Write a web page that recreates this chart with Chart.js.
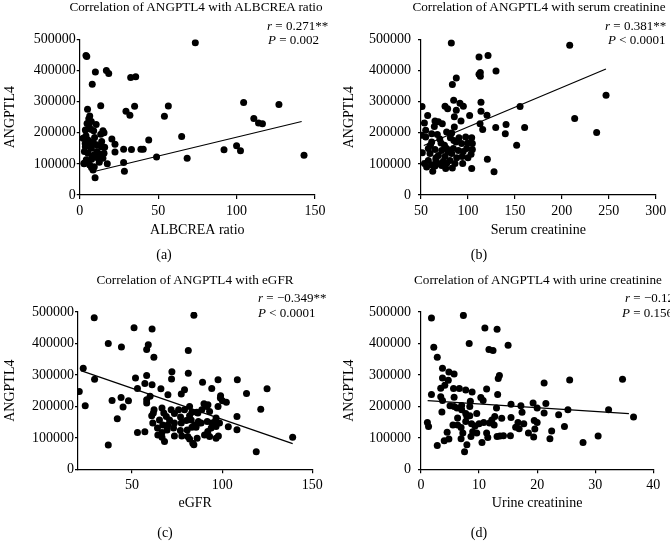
<!DOCTYPE html>
<html><head><meta charset="utf-8">
<script src="https://cdn.jsdelivr.net/npm/chart.js@4.4.1/dist/chart.umd.min.js"></script>
<style>
html,body{margin:0;padding:0;background:#fff;}
body{width:670px;height:547px;position:relative;overflow:hidden;font-family:"Liberation Serif","Times New Roman",serif;color:#000;}
.pan{position:absolute;}
.t{position:absolute;white-space:nowrap;line-height:1;}
.c{transform:translate(-50%,-50%);}
.l{transform:translate(0,-50%);}
.ti{font-size:13.2px;}
.an{font-size:13px;}
.sub{font-size:14px;}
</style></head><body>
<div class="pan" style="left:0;top:0"><canvas id="ca" width="335" height="270"></canvas></div>
<div class="pan" style="left:335px;top:0"><canvas id="cb" width="335" height="270"></canvas></div>
<div class="pan" style="left:0;top:270px"><canvas id="cc" width="335" height="277"></canvas></div>
<div class="pan" style="left:335px;top:270px"><canvas id="cd" width="335" height="277"></canvas></div>

<div class="t c ti" style="left:196px;top:7px">Correlation of ANGPTL4 with ALBCREA ratio</div>
<div class="t c ti" style="left:539px;top:7px">Correlation of ANGPTL4 with serum creatinine</div>
<div class="t c ti" style="left:195px;top:280px">Correlation of ANGPTL4 with eGFR</div>
<div class="t c ti" style="left:538px;top:280px">Correlation of ANGPTL4 with urine creatinine</div>

<div class="t l an" style="left:267px;top:25px"><i>r</i> = 0.271**</div>
<div class="t l an" style="left:268px;top:39px"><i>P</i> = 0.002</div>
<div class="t l an" style="left:605px;top:25px"><i>r</i> = 0.381**</div>
<div class="t l an" style="left:608px;top:39px"><i>P</i> &lt; 0.0001</div>
<div class="t l an" style="left:258px;top:297px"><i>r</i> = −0.349**</div>
<div class="t l an" style="left:258px;top:312px"><i>P</i> &lt; 0.0001</div>
<div class="t l an" style="left:625px;top:297px"><i>r</i> = −0.128</div>
<div class="t l an" style="left:622px;top:312px"><i>P</i> = 0.156</div>

<div class="t c sub" style="left:164px;top:255px">(a)</div>
<div class="t c sub" style="left:479px;top:255px">(b)</div>
<div class="t c sub" style="left:165px;top:533px">(c)</div>
<div class="t c sub" style="left:479px;top:533px">(d)</div>

<script>
// ---------- DATA ----------
const yTicks = [0, 100000, 200000, 300000, 400000, 500000];

// (a) ALBCREA ratio
const albX = [4,4.5,10,8,17,18.5,32.5,35.7,73.7,13.4,29.5,32,35,56.5,54,5,104.5,127,111,114,116.5,65,44,28,33,39,40.5,22.5,22.5,20.5,49,68.5,92,100,102.5,143,28,28.5,9.8,
  6.4,4.7,7.4,3.6,7,8.9,14.8,13.4,2.1,5.3,8.5,3.6,7.4,10.6,13.8,15.9,5.3,9.3,12.7,15.5,4.2,7.6,11.7,14.8,2.7,6.4,9.3,17.6,8.5,2.8,
  5.8,6,4,9.5,6.5,3,11,8,5,12.5,7.5,14,15.5,10.5,3.5];
const albY = [448000,445000,395000,356000,400000,390000,377000,380000,489000,287000,269000,256000,285000,286000,253000,275000,297000,291000,246000,231000,229000,188000,177000,147000,146000,147000,147000,163000,138000,180000,122000,118000,145000,158000,142000,128000,104000,76000,55000,
  254000,230000,236000,209000,211000,206000,206000,195000,182000,177000,171000,155000,150000,161000,155000,153000,134000,129000,132000,134000,113000,115000,118000,118000,102000,96000,91000,100000,80000,100000,
  245000,220000,190000,185000,165000,140000,140000,125000,108000,105000,88000,172000,200000,226000,165000];
const albTicks = [0, 50, 100, 150];
const albFit = [64400, 1213];        // intercept, slope
const albFitRange = [7.9, 141.5];

// (b) Serum creatinine
const scrX = [82.3,208.4,121.4,111.8,129.9,113.2,111.8,113.2,87.6,83.4,
  247.1,51.1,155.5,91.5,84.8,113.9,75.6,78.4,95.1,87.6,
  113.9,57.1,85.5,101.8,120.3,213.7,64.9,68.5,72.7,92.6,
  112.9,53.6,129.6,160.4,140.6,115.7,55,61.4,67.4,64.2,
  85.5,82.7,77.3,139.8,237.1,55,50.7,61.4,71.3,81.3,
  90.5,97.6,104,87.3,93.3,99.7,104.7,151.9,51.4,57.8,
  64.9,72,77.3,84.4,89.8,98.7,104.7,59.6,68.5,75.6,
  82.7,93.9,103.3,57.8,65.8,73.8,80.9,120.7,53.6,61.4,
  68.5,77.3,86.2,94.4,56,64.9,83.4,104,62.5,127.8,
  76.3,70,75,66,88,95,60,79,100,72,85];
const scrY = [488000,481000,448000,443000,398000,393000,388000,381000,376000,355000,
  320000,284000,284000,295000,304000,298000,285000,277000,285000,272000,
  269000,255000,251000,255000,256000,246000,238000,235000,229000,238000,
  229000,231000,217000,217000,226000,210000,208000,197000,194000,220000,
  218000,199000,202000,197000,201000,186000,192000,170000,167000,184000,
  184000,186000,184000,170000,165000,167000,165000,160000,136000,149000,
  146000,143000,149000,149000,143000,149000,146000,133000,127000,124000,
  133000,124000,131000,111000,113000,108000,111000,115000,101000,97000,
  101000,101000,101000,101000,90000,93000,87000,85000,76000,75000,
  85000,180000,160000,120000,120000,140000,160000,138000,120000,95000,175000];
const scrTicks = [50, 100, 150, 200, 250, 300];
const scrFit = [92000, 1265];
const scrFitRange = [53, 247];

// (c) eGFR
const egfrX = [29,84.3,51.1,61.1,36.8,44.1,59,58.1,81.2,62.1,22.9,29.2,51.9,58.1,81.2,72.1,71.9,61.1,57.1,53,66,20.7,79.1,94.2,89.1,97.7,108.4,124.9,113.5,77.3,69.9,60,38.9,43.9,48,58.1,58.1,45,24,41.8,36.8,53,57.1,99,102.3,100.1,121.4,89.9,92.1,118.9,139.1,108.2,108.2,103.4,97.7,
  62.2,61.8,66.6,67.6,69,71.7,73.5,75.8,76.9,79.1,81.9,81.9,83.2,86.5,88.7,60.9,61.5,65.2,67,70.8,69.8,73.5,77.3,80.1,82.8,84.7,87.2,64.1,66.6,69.4,73,76.8,80.6,83.2,64.3,66.6,68,73.5,77.6,80.9,81.9,83.7,84.3,
  99.1,85.9,91.4,93,86.8,88.3,91.7,94.2,96.6,96.1,98.5,93.9,96.6,92,90.2,93,96.6,97.9,85.5,86.1];
const egfrY = [482000,490000,450000,446000,400000,389000,396000,381000,378000,356000,321000,286000,290000,298000,305000,310000,287000,269000,273000,257000,256000,247000,253000,257000,277000,285000,285000,256000,241000,239000,237000,232000,219000,228000,218000,221000,211000,198000,202000,161000,77000,117000,119000,227000,213000,218000,191000,208000,205000,56000,102000,126000,168000,135000,200000,
  189000,179000,195000,179000,168000,189000,177000,189000,166000,189000,200000,170000,181000,179000,189000,170000,147000,157000,141000,157000,141000,147000,147000,155000,157000,141000,147000,131000,117000,125000,131000,123000,125000,134000,109000,102000,88000,106000,106000,104000,96000,83000,78000,
  234000,181000,200000,184000,152000,147000,152000,147000,163000,152000,147000,131000,136000,120000,109000,104000,99000,106000,134000,99000];
const egfrTicks = [50, 100, 150];
const egfrFit = [356400, -1974];
const egfrFitRange = [21.6, 139.1];

// (d) Urine creatinine
const ucrX = [1.8,7.3,11,13.1,2.2,2.8,8.3,11.7,12.4,15,3.7,3.7,4.8,5.7,4.7,3.4,4.1,5.6,6.6,7.7,8.8,13.3,13.5,21.2,25.6,34.7,1.8,3.4,3.7,5.7,8.5,7,8.4,10.3,10.7,11.3,13.2,13,15.5,17.2,19.3,20,21.5,21.2,23.7,25.3,32.3,36.6,
  5,5.7,6.2,3.6,7,7.7,8.4,9.6,12.2,12.7,13.9,15.5,17.4,19.5,20,19.6,17.7,16.7,16.9,18.5,19.4,24.7,22.5,22.2,30.5,27.9,1.1,1.3,2.8,4,4.5,4.8,5.5,6.3,6.9,7.2,6.9,7.9,7.5,8.7,9.3,8.9,8.6,10,9.6,10.8,10.5,11.3,11.5,11.8,13.1,13.6,14.2,12.6,15.4,16.3,7.7,6.3,7.9];
const ucrY = [481000,489000,449000,445000,388000,356000,400000,381000,378000,394000,321000,290000,309000,303000,283000,258000,267000,257000,257000,252000,246000,289000,298000,274000,284000,286000,238000,231000,219000,229000,216000,203000,200000,228000,219000,255000,238000,195000,207000,202000,211000,195000,209000,179000,173000,189000,189000,166000,
  202000,200000,195000,182000,189000,177000,170000,177000,157000,168000,162000,165000,181000,155000,149000,128000,145000,149000,129000,115000,103000,136000,122000,97000,106000,85000,149000,136000,76000,91000,118000,96000,141000,141000,133000,115000,97000,78000,56000,145000,138000,119000,104000,145000,115000,149000,85000,115000,101000,147000,104000,106000,107000,141000,107000,134000,152000,163000,168000];
const ucrTicks = [0, 10, 20, 30, 40];
const ucrFit = [219400, -1183];
const ucrFitRange = [1.15, 35.8];

// ---------- RENDER ----------
const FONT = "'Liberation Serif','Times New Roman',serif";

function panel(id, xs, ys, fit, range, xMin, xMax, xTicks, xTitle, g) {
  const pts = xs.map((x, i) => ({x: x, y: ys[i]}));
  const line = range.map(x => ({x: x, y: fit[0] + fit[1] * x}));
  new Chart(document.getElementById(id), {
    type: 'scatter',
    data: {
      datasets: [
        {type: 'scatter', data: pts, backgroundColor: '#000', borderWidth: 0,
         pointRadius: 3.5, pointHoverRadius: 3.5, order: 1},
        {type: 'line', data: line, showLine: true, borderColor: '#000', borderWidth: 1.2,
         pointRadius: 0, fill: false, order: 0}
      ]
    },
    options: {
      responsive: false, animation: false, events: [],
      layout: {padding: {left: 0, right: g.padR, top: g.padT, bottom: g.padB}},
      plugins: {legend: {display: false}, tooltip: {enabled: false}},
      scales: {
        x: {
          type: 'linear', min: xMin, max: xMax,
          afterBuildTicks: s => { s.ticks = xTicks.map(v => ({value: v})); },
          afterFit: s => { s.height = g.xH; s.paddingLeft = 0; s.paddingRight = 0; },
          border: {display: true, color: '#000', width: 1.2},
          grid: {display: true, drawOnChartArea: false, drawTicks: true, tickLength: 4, color: '#000', lineWidth: 1.2},
          ticks: {color: '#000', font: {family: FONT, size: 14}, padding: 4, maxRotation: 0,
                  callback: v => String(v)},
          title: {display: true, text: xTitle, color: '#000', font: {family: FONT, size: 14},
                  padding: {top: 0, bottom: g.xTitlePad}}
        },
        y: {
          type: 'linear', min: 0, max: 500000,
          afterBuildTicks: s => { s.ticks = yTicks.map(v => ({value: v})); },
          afterFit: s => { s.width = g.yW; s.paddingTop = 0; s.paddingBottom = 0; },
          border: {display: true, color: '#000', width: 1.2},
          grid: {display: true, drawOnChartArea: false, drawTicks: true, tickLength: 3, color: '#000', lineWidth: 1.2},
          ticks: {color: '#000', font: {family: FONT, size: 14}, padding: g.yTickPad,
                  callback: v => String(v)},
          title: {display: true, text: 'ANGPTL4', color: '#000', font: {family: FONT, size: 14},
                  padding: {top: g.yTitlePad, bottom: 0}}
        }
      }
    }
  });
}

panel('ca', albX, albY, albFit, albFitRange, 0, 150, albTicks, 'ALBCREA ratio',
  {yW: 79.7, padR: 20, padT: 39.3, xH: 45, padB: 30, yTitlePad: 1.6, xTitlePad: 1.0, yTickPad: 1});
panel('cb', scrX, scrY, scrFit, scrFitRange, 50, 300, scrTicks, 'Serum creatinine',
  {yW: 86, padR: 14.3, padT: 39.3, xH: 45, padB: 30, yTitlePad: 5.6, xTitlePad: 1.0, yTickPad: 7});
panel('cc', egfrX, egfrY, egfrFit, egfrFitRange, 20, 150, egfrTicks, 'eGFR',
  {yW: 78, padR: 22.7, padT: 42, xH: 44, padB: 33.7, yTitlePad: 1.6, xTitlePad: 1.3, yTickPad: 1});
panel('cd', ucrX, ucrY, ucrFit, ucrFitRange, 0, 40, ucrTicks, 'Urine creatinine',
  {yW: 86, padR: 16.7, padT: 42, xH: 44, padB: 33.7, yTitlePad: 5.6, xTitlePad: 1.3, yTickPad: 7});
</script>
</body></html>
